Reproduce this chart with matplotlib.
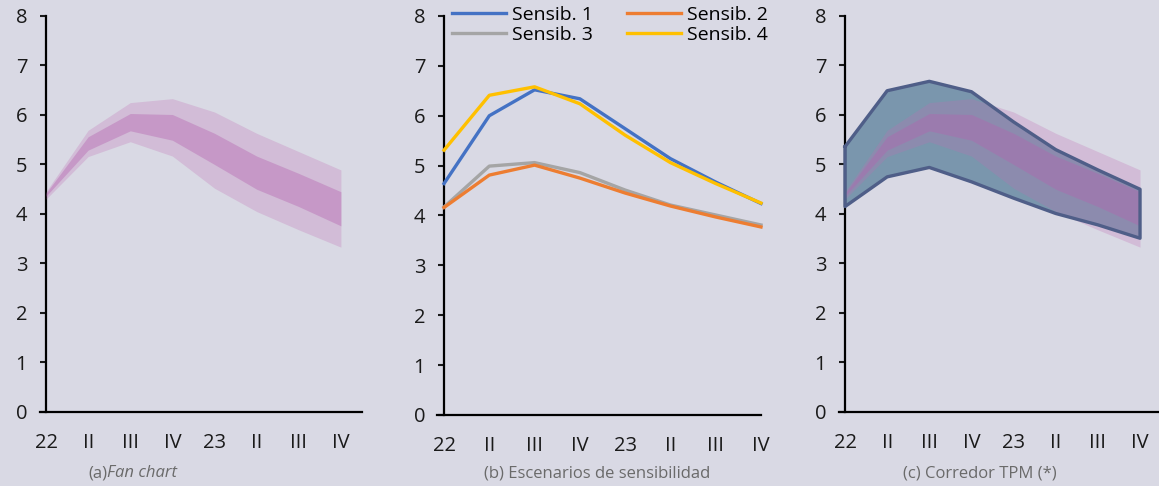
from matplotlib import pyplot as plt
import numpy as np

# eje trimestral 2022-2023
quarters = ['22', 'II', 'III', 'IV', '23', 'II', 'III', 'IV']

# (a) fan chart: bandas externa e interna
fan_outer_hi = [4.45, 5.69, 6.25, 6.33, 6.06, 5.63, 5.26, 4.89]
fan_inner_hi = [4.42, 5.56, 6.03, 6.01, 5.63, 5.17, 4.82, 4.45]
fan_inner_lo = [4.36, 5.29, 5.68, 5.49, 5.00, 4.50, 4.15, 3.76]
fan_outer_lo = [4.30, 5.16, 5.46, 5.17, 4.52, 4.05, 3.68, 3.33]

# (b) escenarios de sensibilidad
sensib_names = ['Sensib. 1', 'Sensib. 2', 'Sensib. 3', 'Sensib. 4']
sensib_1 = [4.64, 6.00, 6.52, 6.34, 5.74, 5.14, 4.67, 4.24]
sensib_2 = [4.16, 4.81, 5.01, 4.75, 4.45, 4.19, 3.97, 3.77]
sensib_3 = [4.17, 4.99, 5.06, 4.86, 4.51, 4.21, 4.01, 3.81]
sensib_4 = [5.31, 6.41, 6.58, 6.24, 5.61, 5.06, 4.64, 4.25]

# (c) corredor TPM
corr_hi = [5.36, 6.49, 6.68, 6.47, 5.86, 5.30, 4.89, 4.50]
corr_lo = [4.15, 4.75, 4.94, 4.65, 4.32, 4.01, 3.78, 3.51]

bg = '#d9d9e4'
outer_col = (192/255, 110/255, 180/255, 0.27)
inner_col = (180/255, 100/255, 175/255, 0.40)
cap_col = '#6a6a6a'

plt.rcParams['font.family'] = ['Open Sans', 'DejaVu Sans']

fig = plt.figure(figsize=(11.59, 4.86), dpi=100, facecolor=bg)
x = np.arange(len(quarters))


def style_axis(ax, xmax):
    ax.set_facecolor(bg)
    ax.set_xlim(0, xmax)
    ax.set_ylim(0, 8)
    ax.set_yticks(range(0, 9))
    ax.set_xticks(x)
    ax.set_xticklabels(quarters)
    for s in ['top', 'right']:
        ax.spines[s].set_visible(False)
    for s in ['left', 'bottom']:
        ax.spines[s].set_linewidth(1.6)
        ax.spines[s].set_color('black')
    ax.tick_params(axis='y', length=4.5, width=1.5, pad=9, labelsize=14.5, colors='#1a1a1a')
    ax.tick_params(axis='x', length=0, pad=15, labelsize=14.5, colors='#1a1a1a')
    ax.spines['bottom'].set_bounds(-0.15, xmax)
    ax.spines['bottom'].set_clip_on(False)


def draw_fan(ax):
    ax.fill_between(x, fan_outer_lo, fan_outer_hi, color=outer_col, lw=0, zorder=3)
    ax.fill_between(x, fan_inner_lo, fan_inner_hi, color=inner_col, lw=0, zorder=4)


# (a)
ax1 = fig.add_axes([0.0397, 0.1523, 0.2726, 0.8148])
style_axis(ax1, 7.5)
draw_fan(ax1)
t1 = fig.text(0.076, 0.018, '(a)', fontsize=12, color=cap_col, ha='left')

# (b)
ax2 = fig.add_axes([0.3831, 0.1461, 0.2735, 0.821])
style_axis(ax2, 7)
colors = ['#4472c4', '#ed7d31', '#a5a5a5', '#ffc000']
series = [sensib_1, sensib_2, sensib_3, sensib_4]
order = [0, 2, 1, 3]
for i in order:
    ax2.plot(x, series[i], color=colors[i], lw=2.4, label=sensib_names[i], zorder=3, clip_on=False)
handles, labels = ax2.get_legend_handles_labels()
leg = ax2.legend(handles, labels, ncol=2, loc='upper left', bbox_to_anchor=(0.0, 1.045),
                 frameon=False, fontsize=14, handlelength=2.8, handletextpad=0.3,
                 columnspacing=1.75, labelspacing=0.12, borderaxespad=0)
fig.text(0.515, 0.018, '(b) Escenarios de sensibilidad', fontsize=12, color=cap_col, ha='center')

# (c)
ax3 = fig.add_axes([0.7291, 0.1523, 0.2709, 0.8148])
style_axis(ax3, 7.45)
ax3.fill_between(x, corr_lo, corr_hi, color='#7a96ad', lw=0, zorder=2)
draw_fan(ax3)
edge_x = np.concatenate([x, x[::-1], x[:1]])
edge_y = np.concatenate([corr_hi, corr_lo[::-1], corr_hi[:1]])
ax3.plot(edge_x, edge_y, color='#4f5e88', lw=2.4, zorder=5, clip_on=False, solid_joinstyle='round')
fig.text(0.845, 0.018, '(c) Corredor TPM (*)', fontsize=12, color=cap_col, ha='center')

# "Fan chart" en cursiva pegado a "(a)"
fig.canvas.draw()
bb = t1.get_window_extent().transformed(fig.transFigure.inverted())
fig.text(bb.x1, 0.018, 'Fan chart', fontsize=12, color=cap_col, ha='left', style='italic')

fig.savefig('out.png', dpi=100, facecolor=bg)
